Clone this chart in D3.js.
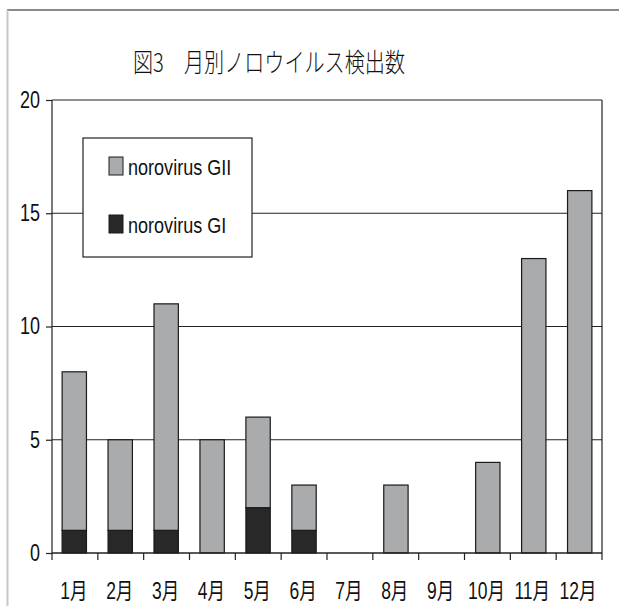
<!DOCTYPE html>
<html>
<head>
<meta charset="utf-8">
<script src="https://cdn.jsdelivr.net/npm/d3@7"></script>
<style>
  body { margin: 0; background: #fff; }
  text { font-family: "Liberation Sans", "Noto Sans CJK JP", sans-serif; fill: #111; }
</style>
</head>
<body>
<svg id="chart" width="619" height="606"></svg>
<script>
// データ
let months = ["1月", "2月", "3月", "4月", "5月", "6月", "7月", "8月", "9月", "10月", "11月", "12月"];
let gi = [1, 1, 1, 0, 2, 1, 0, 0, 0, 0, 0, 0];
let gii = [7, 4, 10, 5, 4, 2, 0, 3, 0, 4, 13, 16];
let yTicks = [0, 5, 10, 15, 20];
let seriesNames = ["norovirus GII", "norovirus GI"];
let colGII = "#aaabad";
let colGI = "#282828";

const svg = d3.select("#chart");

// 細い字体の代わりに横方向を縮める
function narrow(sel, k) {
    sel.each(function () {
        let w = this.getComputedTextLength();
        d3.select(this).attr("textLength", w * k).attr("lengthAdjust", "spacingAndGlyphs");
    });
}

// 外枠
svg.append("line").attr("x1", 7).attr("x2", 619).attr("y1", 10).attr("y2", 10)
    .style("stroke", "#8a8a8a").style("stroke-width", 2);
svg.append("line").attr("x1", 7.5).attr("x2", 7.5).attr("y1", 10).attr("y2", 606)
    .style("stroke", "#c8c8c8").style("stroke-width", 2);

let title = svg.append("text")
    .attr("x", 269).attr("y", 72)
    .attr("text-anchor", "middle")
    .style("font-size", "26px")
    .style("font-weight", 300)
    .style("font-family", "'Noto Sans CJK JP', sans-serif")
    .text("図3　月別ノロウイルス検出数");
title.attr("textLength", 272).attr("lengthAdjust", "spacingAndGlyphs");

const pLeft = 52, pRight = 602, pTop = 100, pBottom = 553;

const x = d3.scaleBand().domain(months).range([pLeft, pRight]).paddingInner(0.47).paddingOuter(0.22);
const xb = d3.scaleBand().domain(months).range([pLeft, pRight]);
const y = d3.scaleLinear().domain([0, 20]).range([pBottom, pTop]);

// グリッド
svg.selectAll(".grid").data(yTicks.filter(d => d > 0)).enter().append("line")
    .attr("class", "grid")
    .attr("x1", pLeft).attr("x2", pRight)
    .attr("y1", d => y(d)).attr("y2", d => y(d))
    .style("stroke", "#222").style("stroke-width", 1.2);

// 右枠
svg.append("line").attr("x1", pRight).attr("x2", pRight).attr("y1", pTop).attr("y2", pBottom)
    .style("stroke", "#222").style("stroke-width", 1.2);

// 積み上げ
let rows = months.map((m, i) => ({ m: m, gi: gi[i], gii: gii[i] }));
let stack = d3.stack().keys(["gi", "gii"])(rows);
let colors = { gi: colGI, gii: colGII };

stack.forEach(layer => {
    svg.selectAll(".bar-" + layer.key)
        .data(layer.filter(d => d[1] - d[0] > 0))
        .enter().append("rect")
        .attr("class", "bar-" + layer.key)
        .attr("x", d => x(d.data.m))
        .attr("width", x.bandwidth())
        .attr("y", d => y(d[1]))
        .attr("height", d => y(d[0]) - y(d[1]))
        .style("fill", colors[layer.key])
        .style("stroke", "#1a1a1a")
        .style("stroke-width", 1.2);
});

// 軸
const yAxis = svg.append("g").attr("transform", `translate(${pLeft},0)`)
    .call(d3.axisLeft(y).tickValues(yTicks).tickSize(6).tickPadding(6));
yAxis.select(".domain").remove();
yAxis.selectAll("line").style("stroke", "#222").style("stroke-width", 1.2);
yAxis.selectAll("text").style("font-size", "23px").style("fill", "#111")
    .style("font-family", "'Liberation Sans', sans-serif")
    .attr("x", -12);
narrow(yAxis.selectAll("text"), 0.78);
svg.append("line").attr("x1", pLeft).attr("x2", pLeft).attr("y1", pTop).attr("y2", pBottom)
    .style("stroke", "#222").style("stroke-width", 1.2);

const xAxis = svg.append("g").attr("transform", `translate(0,${pBottom})`);
xAxis.append("line").attr("x1", pLeft).attr("x2", pRight).attr("y1", 0).attr("y2", 0)
    .style("stroke", "#222").style("stroke-width", 1.5);
xAxis.selectAll(".tk").data(months).enter().append("line")
    .attr("x1", d => xb(d) + xb.bandwidth()).attr("x2", d => xb(d) + xb.bandwidth())
    .attr("y1", 0).attr("y2", 7)
    .style("stroke", "#222").style("stroke-width", 1.2);
xAxis.append("line").attr("x1", pLeft).attr("x2", pLeft).attr("y1", 0).attr("y2", 7)
    .style("stroke", "#222").style("stroke-width", 1.2);
let mLabels = xAxis.selectAll(".lbl").data(months).enter().append("text")
    .attr("x", d => xb(d) + xb.bandwidth() / 2 - 1)
    .attr("y", 46)
    .attr("text-anchor", "middle")
    .style("font-size", "23px")
    .text(d => d);
narrow(mLabels, 0.76);

// 凡例
svg.append("rect").attr("x", 83).attr("y", 138).attr("width", 169).attr("height", 119)
    .style("fill", "#fff").style("stroke", "#222").style("stroke-width", 1.2);
let legendCols = [colGII, colGI];
let legend = svg.selectAll(".lg").data(seriesNames).enter().append("g")
    .attr("transform", (d, i) => `translate(109,${157 + i * 58})`);
legend.append("rect").attr("width", 14).attr("height", 18)
    .style("fill", (d, i) => legendCols[i]).style("stroke", "#1a1a1a").style("stroke-width", 1);
let lgText = legend.append("text").attr("x", 19).attr("y", 18)
    .style("font-size", "22px")
    .text(d => d);
narrow(lgText, 0.82);
</script>
</body>
</html>
